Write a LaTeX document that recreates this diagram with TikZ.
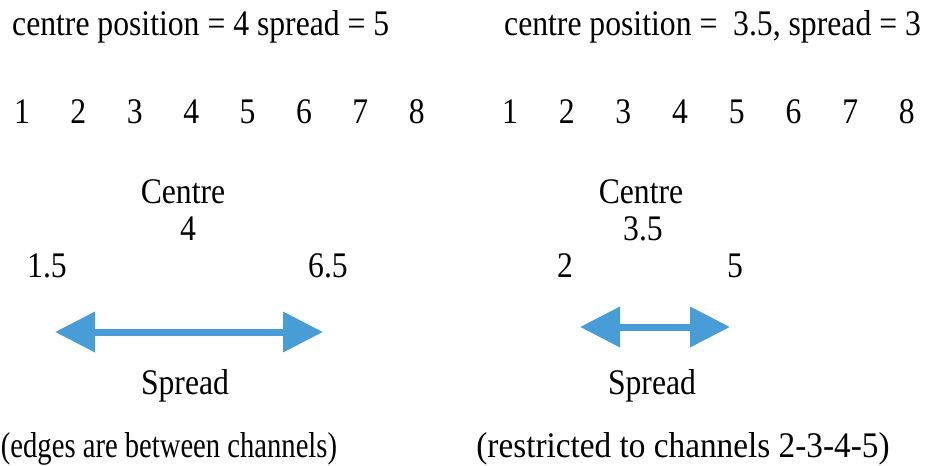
\documentclass[tikz,border=0pt]{standalone}
\usepackage{fontspec}
\setmainfont{Liberation Serif}
\newfontfamily\condfont[FakeStretch=0.88]{Liberation Serif}
\newfontfamily\condfontnarrow[FakeStretch=0.795]{Liberation Serif}
\newfontfamily\condfontwide[FakeStretch=0.925]{Liberation Serif}
\usetikzlibrary{arrows.meta}
\definecolor{arrowblue}{RGB}{72,157,214}
\begin{document}
\begin{tikzpicture}[x=1pt,y=-1pt,
  lbl/.style={font=\condfont\fontsize{36}{40}\selectfont, inner sep=0pt, anchor=base},
  lblw/.style={lbl, anchor=base west},
  spreadarrow/.style={draw=arrowblue, line width=7pt,
     arrows={Triangle[length=40pt,width=39pt,fill=arrowblue]-Triangle[length=40pt,width=39pt,fill=arrowblue]}}]
\useasboundingbox (0,0) rectangle (927,466);
% titles
\node[lblw] (titleL) at (12,35) {centre position = 4 spread = 5};
\node[lblw] (titleR) at (504,35) {centre position =\ \ 3.5, spread = 3};
% channel numbers
\foreach \i in {1,...,8} {
  \node[lbl] (l\i) at ({22+56.4*(\i-1)},123) {\i};
  \node[lbl] (r\i) at ({510+56.7*(\i-1)},123) {\i};
}
% left panel
\node[lbl] (cL) at (183,203) {Centre};
\node[lbl] (cvL) at (188,240) {4};
\node[lbl] (eL1) at (47,277) {1.5};
\node[lbl] (eL2) at (328,277) {6.5};
\coordinate (aL1) at (55,332);
\coordinate (aL2) at (323,332);
\draw[spreadarrow] (aL1) -- (aL2);
\node[lbl] (sL) at (185,394) {Spread};
\node[lbl, font=\condfontnarrow\fontsize{36}{40}\selectfont] (bL) at (169,457) {(edges are between channels)};
% right panel
\node[lbl] (cR) at (641,203) {Centre};
\node[lbl] (cvR) at (643,240) {3.5};
\node[lbl] (eR1) at (565,277) {2};
\node[lbl] (eR2) at (735,277) {5};
\coordinate (aR1) at (580,327);
\coordinate (aR2) at (730,327);
\draw[spreadarrow] (aR1) -- (aR2);
\node[lbl] (sR) at (652,394) {Spread};
\node[lbl, font=\condfontwide\fontsize{36}{40}\selectfont] (bR) at (683,457) {(restricted to channels 2-3-4-5)};
\end{tikzpicture}
\end{document}
